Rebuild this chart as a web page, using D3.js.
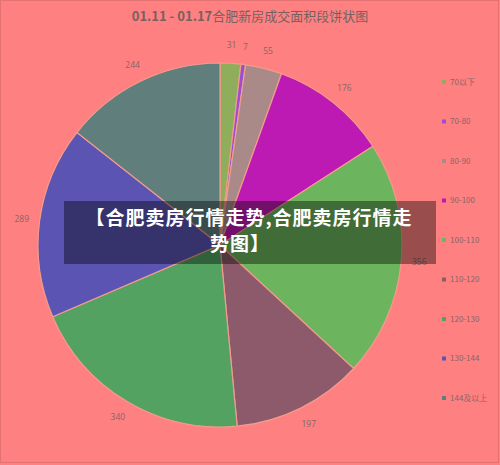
<!DOCTYPE html>
<html>
<head>
<meta charset="utf-8">
<script src="https://cdn.jsdelivr.net/npm/d3@7"></script>
<style>
  html, body { margin: 0; padding: 0; background: #ff8080; }
  svg { display: block; }
</style>
</head>
<body>
<div id="chart"></div>
<script>
// area bands and number of deals
var categories = ["70以下", "70-80", "80-90", "90-100", "100-110", "110-120", "120-130", "130-144", "144及以上"];
var values = [31, 7, 55, 176, 356, 197, 340, 289, 244];
var sliceColors = ["#8fae5c", "#9c4ed2", "#a98a88", "#bd19b3", "#6cb45e", "#8c5a6a", "#53a262", "#5b54b3", "#5f7e7c"];
var title = "01.11 - 01.17合肥新房成交面积段饼状图";
var bannerLines = ["【合肥卖房行情走势,合肥卖房行情走", "势图】"];

var width = 500, height = 465;
var cx = 220, cy = 245, radius = 182;

var svg = d3.select("#chart").append("svg")
  .attr("width", width)
  .attr("height", height);

svg.append("rect")
  .attr("x", 0.5).attr("y", 0.5)
  .attr("width", width - 2).attr("height", height - 3)
  .attr("fill", "#ff8080")
  .attr("stroke", "#e57272")
  .attr("stroke-width", 1);

// title
var t = svg.append("text")
  .attr("x", 250)
  .attr("y", 21)
  .attr("text-anchor", "middle")
  .attr("font-family", "'Noto Sans CJK SC', 'Open Sans', sans-serif")
  .attr("font-size", 13)
  .attr("fill", "#776060");
t.append("tspan").attr("font-weight", "bold").text(title.slice(0, 13));
t.append("tspan").text(title.slice(13));

var color = d3.scaleOrdinal().domain(categories).range(sliceColors);

var pie = d3.pie().sort(null).value(function (d) { return d.value; });
var data = categories.map(function (c, i) { return { name: c, value: values[i] }; });
var arcs = pie(data);

var arc = d3.arc().innerRadius(0).outerRadius(radius);
var labelArc = d3.arc().innerRadius(200).outerRadius(200);

var g = svg.append("g").attr("transform", "translate(" + cx + "," + cy + ")");

g.selectAll("path.slice")
  .data(arcs)
  .enter()
  .append("path")
  .attr("class", "slice")
  .attr("d", arc)
  .attr("fill", function (d) { return color(d.data.name); })
  .attr("stroke", "#f29c8c")
  .attr("stroke-width", 1.2);

g.selectAll("text.lbl")
  .data(arcs)
  .enter()
  .append("text")
  .attr("class", "lbl")
  .attr("transform", function (d) { return "translate(" + labelArc.centroid(d) + ")"; })
  .attr("text-anchor", "middle")
  .attr("dy", "0.35em")
  .attr("font-family", "'Open Sans', sans-serif")
  .attr("font-size", 8.5)
  .attr("fill", "#866666")
  .text(function (d) { return d.data.value; });

// legend
var legendY = d3.scalePoint().domain(categories).range([82, 398]);
var legend = svg.selectAll("g.legend")
  .data(categories)
  .enter()
  .append("g")
  .attr("class", "legend")
  .attr("transform", function (d) { return "translate(442," + legendY(d) + ")"; });

legend.append("rect")
  .attr("x", 0).attr("y", -2)
  .attr("width", 4).attr("height", 4)
  .attr("fill", function (d) { return color(d); });

legend.append("text")
  .attr("x", 8)
  .attr("dy", "0.35em")
  .attr("font-family", "'Noto Sans CJK SC', sans-serif")
  .attr("font-size", 8)
  .attr("fill", "#866666")
  .text(function (d) { return d; });

// overlay banner
svg.append("rect")
  .attr("x", 64).attr("y", 201)
  .attr("width", 372).attr("height", 63)
  .attr("fill", "rgba(0,0,0,0.4)");

svg.selectAll("text.banner")
  .data(bannerLines)
  .enter()
  .append("text")
  .attr("class", "banner")
  .attr("x", function (d, i) { return i === 0 ? 249 : 240; })
  .attr("y", function (d, i) { return 225 + i * 26; })
  .attr("text-anchor", "middle")
  .attr("font-family", "'Noto Sans CJK SC', sans-serif")
  .attr("font-weight", "bold")
  .attr("font-size", 19)
  .attr("letter-spacing", 1)
  .attr("fill", "#ffffff")
  .text(function (d) { return d; });
</script>
</body>
</html>
